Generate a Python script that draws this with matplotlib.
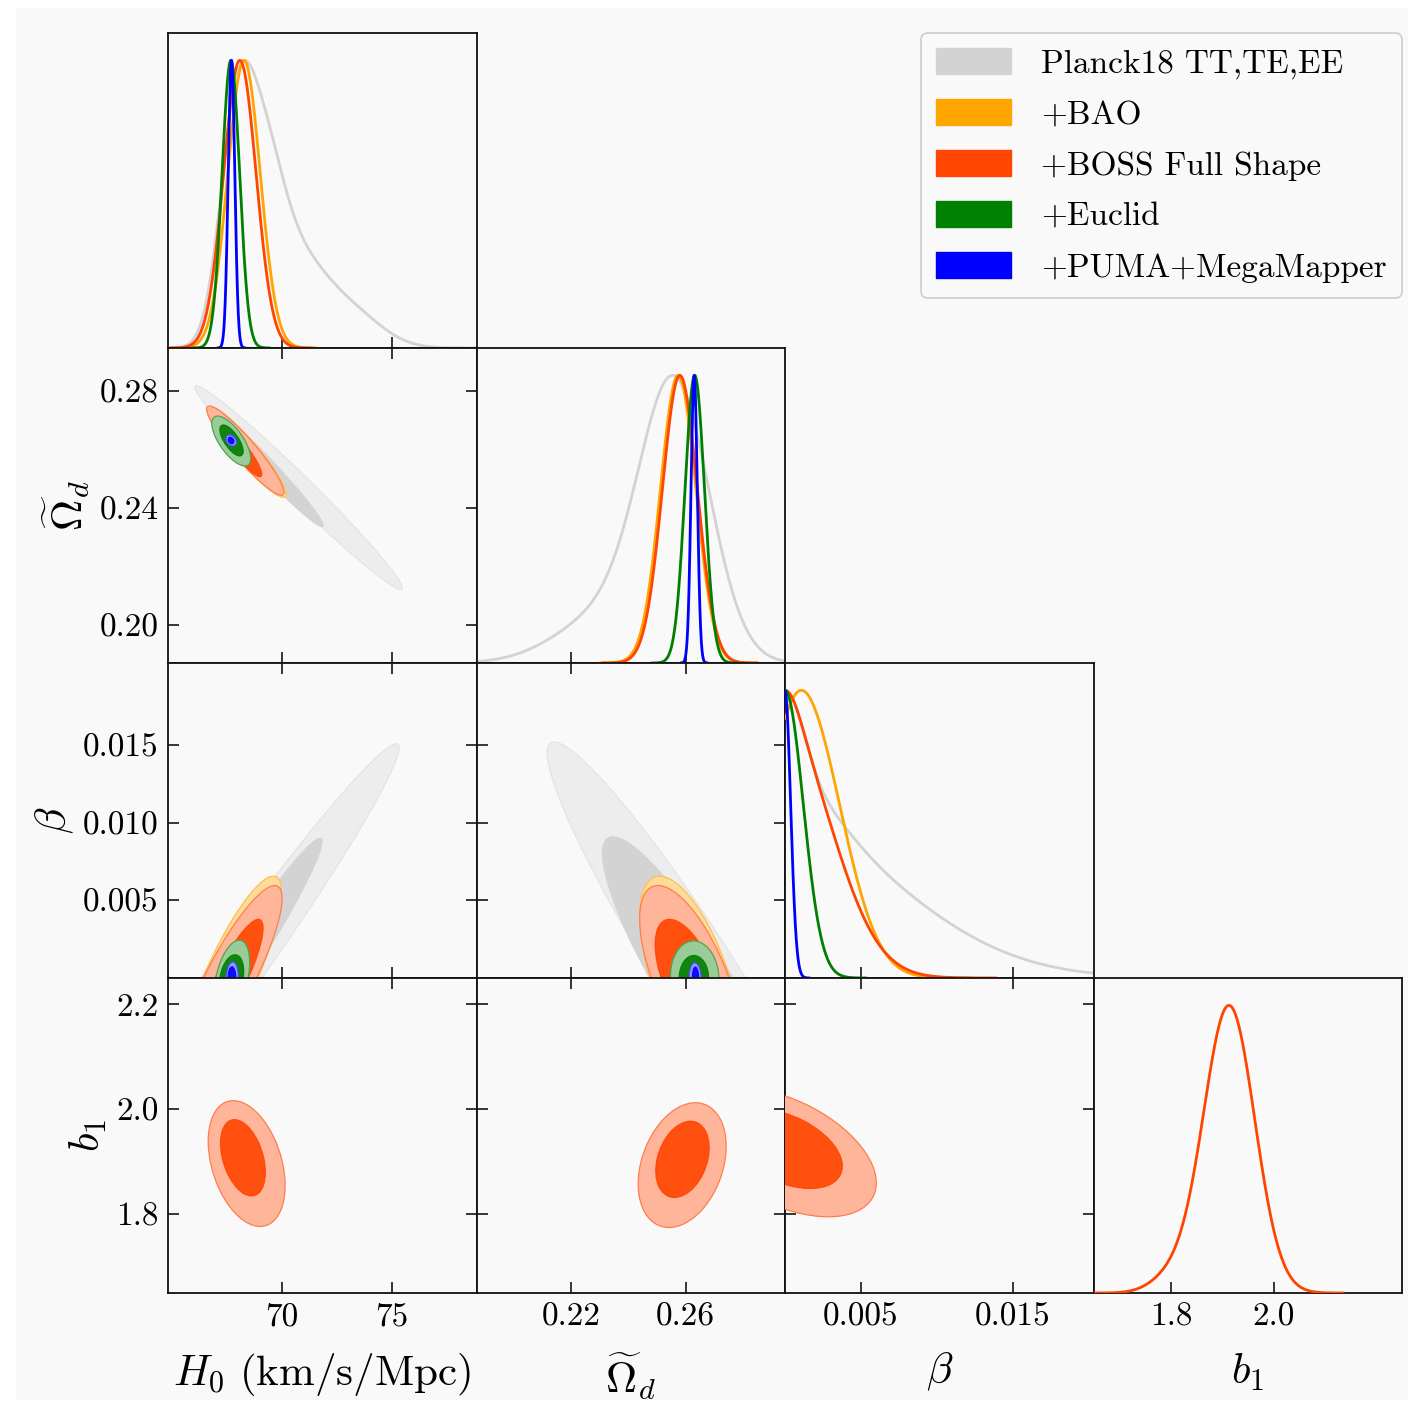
import matplotlib

matplotlib.use("Agg")
import matplotlib.pyplot as plt
import numpy as np
from matplotlib.colors import to_rgb
from matplotlib.patches import Ellipse, Patch, Rectangle

plt.rcParams["font.family"] = ["cmr10", "DejaVu Serif"]
plt.rcParams["mathtext.fontset"] = "cm"
plt.rcParams["axes.unicode_minus"] = False

# ---------------------------------------------------------------- data
DATASETS = ["Planck18 TT,TE,EE", "+BAO", "+BOSS Full Shape", "+Euclid", "+PUMA+MegaMapper"]
LABELS = [r"$H_0\ (\mathrm{km/s/Mpc})$", r"$\widetilde{\Omega}_d$", r"$\beta$", r"$b_1$"]

# axis ranges and ticks per parameter (H0, Omega_d, beta, b1)
LIMITS = [(64.82, 78.86), (0.1868, 0.2948), (0.0, 0.0203), (1.649, 2.250)]
X_TICKS = [[70, 75], [0.22, 0.26], [0.005, 0.015], [1.8, 2.0]]
X_TICK_LABELS = [["70", "75"], ["0.22", "0.26"], ["0.005", "0.015"], ["1.8", "2.0"]]
Y_TICKS = [[], [0.20, 0.24, 0.28], [0.005, 0.010, 0.015], [1.8, 2.0, 2.2]]
Y_TICK_LABELS = [[], ["0.20", "0.24", "0.28"], ["0.005", "0.010", "0.015"], ["1.8", "2.0", "2.2"]]

# 1D marginals: per dataset a list of (centre, width, weight) components
H0_1D = [
    [(67.85, 0.75, 0.65), (69.0, 0.95, 0.60), (70.6, 1.4, 0.32), (73.2, 1.4, 0.12)],
    [(68.28, 0.74, 1.0)],
    [(68.09, 0.74, 1.0)],
    [(67.68, 0.40, 1.0)],
    [(67.71, 0.15, 1.0)],
]
OMEGA_1D = [
    [(0.2563, 0.0122, 1.0), (0.233, 0.0175, 0.18)],
    [(0.2574, 0.0062, 1.0)],
    [(0.2580, 0.0061, 1.0)],
    [(0.2632, 0.0034, 1.0)],
    [(0.2630, 0.0011, 1.0)],
]
BETA_1D = [
    [(0.0, 0.00118, 0.30), (0.0, 0.0030, 0.20), (0.0, 0.0078, 0.50)],
    [(0.0014, 0.0024, 1.0), (0.0, 0.0015, 0.15)],
    [(0.0, 0.0010, 0.15), (0.0, 0.0031, 0.85)],
    [(0.0, 0.0012, 1.0)],
    [(0.0, 0.00037, 1.0)],
]
B1_1D = [None, None, [(1.913, 0.050, 1.0), (1.80, 0.040, 0.05)], None, None]

# 2D contours: per dataset (cx, cy, half-extent x, half-extent y, correlation)
H0_OMEGA_95 = [
    (70.77, 0.2469, 4.72, 0.0349, -0.985),
    (68.40, 0.2592, 1.80, 0.0156, -0.93),
    (68.34, 0.2596, 1.76, 0.0153, -0.93),
    (67.70, 0.2629, 0.886, 0.00855, -0.70),
    (67.70, 0.2631, 0.24, 0.0019, -0.30),
]
H0_OMEGA_68 = [
    (69.30, 0.2541, 2.575, 0.0205, -0.98),
    (68.20, 0.2598, 1.05, 0.0097, -0.91),
    (68.10, 0.2601, 0.985, 0.0094, -0.91),
    (67.71, 0.2631, 0.53, 0.0053, -0.70),
    (67.69, 0.2631, 0.13, 0.0011, -0.30),
]
H0_BETA_95 = [
    (67.70, 0.0, 7.64, 0.0151, 0.983),
    (67.66, 0.0, 2.32, 0.00656, 0.84),
    (67.64, 0.0, 2.37, 0.00596, 0.86),
    (67.73, 0.0, 0.806, 0.00244, 0.41),
    (67.74, 0.0, 0.28, 0.00103, 0.10),
]
H0_BETA_68 = [
    (67.70, 0.0, 4.13, 0.0090, 0.976),
    (67.75, 0.0, 1.45, 0.0040, 0.85),
    (67.72, 0.0, 1.426, 0.00378, 0.849),
    (67.71, 0.0, 0.554, 0.0015, 0.29),
    (67.73, 0.0, 0.175, 0.00072, 0.0),
]
OMEGA_BETA_95 = [
    (0.2650, 0.0, 0.05345, 0.0152, -0.954),
    (0.2615, 0.0, 0.01756, 0.00656, -0.604),
    (0.2616, 0.0, 0.01768, 0.00596, -0.639),
    (0.2632, 0.0, 0.0085, 0.00239, -0.05),
    (0.2634, 0.0, 0.0021, 0.00098, -0.10),
]
OMEGA_BETA_68 = [
    (0.2620, 0.0, 0.0311, 0.0091, -0.883),
    (0.2612, 0.0, 0.0120, 0.0040, -0.57),
    (0.2611, 0.0, 0.01175, 0.00378, -0.57),
    (0.2629, 0.0, 0.00515, 0.00145, 0.0),
    (0.2635, 0.0, 0.0011, 0.0007, -0.10),
]
H0_B1_95 = [None, None, (68.40, 1.896, 1.75, 0.120, -0.35), None, None]
H0_B1_68 = [None, None, (68.23, 1.907, 1.02, 0.0728, -0.38), None, None]
OMEGA_B1_95 = [None, None, (0.2588, 1.893, 0.0154, 0.119, 0.30), None, None]
OMEGA_B1_68 = [None, None, (0.2589, 1.904, 0.00935, 0.0727, 0.30), None, None]
BETA_B1_95 = [None, None, (0.0, 1.917, 0.00601, 0.1226, -0.473), None, None]
BETA_B1_68 = [None, None, (0.0, 1.924, 0.00377, 0.0756, -0.437), None, None]

# ---------------------------------------------------------------- style
COLORS = ["#d3d3d3", "#ffa500", "#ff4500", "#008000", "#0000ff"]
BG = "#f9f9f9"
PANEL_LEFT, PANEL_RIGHT = 168 / 1408, 1402 / 1408
PANEL_BOTTOM, PANEL_TOP = 1 - 1293 / 1403, 1 - 33 / 1403

MARGINALS = [H0_1D, OMEGA_1D, BETA_1D, B1_1D]
CONTOURS = {
    (1, 0): (H0_OMEGA_95, H0_OMEGA_68),
    (2, 0): (H0_BETA_95, H0_BETA_68),
    (2, 1): (OMEGA_BETA_95, OMEGA_BETA_68),
    (3, 0): (H0_B1_95, H0_B1_68),
    (3, 1): (OMEGA_B1_95, OMEGA_B1_68),
    (3, 2): (BETA_B1_95, BETA_B1_68),
}


def pale(color, f=0.6):
    rgb = np.array(to_rgb(color))
    return tuple(rgb * (1 - f) + f)


def add_ellipse(ax, params, face, edge, zorder, alpha=1.0):
    cx, cy, sx, sy, rho = params
    cov = np.array([[sx * sx, rho * sx * sy], [rho * sx * sy, sy * sy]])
    vals, vecs = np.linalg.eigh(cov)
    angle = np.degrees(np.arctan2(vecs[1, 1], vecs[0, 1]))
    ax.add_patch(Ellipse((cx, cy), 2 * np.sqrt(vals[1]), 2 * np.sqrt(max(vals[0], 0)),
                         angle=angle, facecolor=face, edgecolor=edge, lw=0.9,
                         alpha=alpha, zorder=zorder))


def draw_marginal(ax, comps, lims, color, zorder):
    lo = max(min(m - 4.5 * s for m, s, _ in comps), lims[0])
    hi = min(max(m + 4.5 * s for m, s, _ in comps), lims[1])
    x = np.linspace(lo, hi, 600)
    y = np.zeros_like(x)
    for mu, sig, w in comps:
        y += w * np.exp(-0.5 * ((x - mu) / sig) ** 2)
    ax.plot(x, y / y.max(), color=color, lw=2.0, zorder=zorder, solid_capstyle="butt")


fig, axes = plt.subplots(4, 4, figsize=(14.08, 14.03), dpi=100)
fig.patch.set_facecolor("white")
fig.add_artist(Rectangle((16 / 1408, 3 / 1403), 1 - 16 / 1408, 1 - 11 / 1403,
                         transform=fig.transFigure, facecolor=BG, edgecolor="none", zorder=-5))
fig.subplots_adjust(left=PANEL_LEFT, right=PANEL_RIGHT, bottom=PANEL_BOTTOM, top=PANEL_TOP,
                    wspace=0, hspace=0)

for i in range(4):
    for j in range(4):
        ax = axes[i, j]
        if j > i:
            ax.set_visible(False)
            continue
        ax.set_facecolor(BG)
        for sp in ax.spines.values():
            sp.set_linewidth(1.3)
            sp.set_color("#111111")
        ax.set_xlim(*LIMITS[j])
        ax.set_xticks(X_TICKS[j])
        if i == 3:
            ax.set_xticklabels(X_TICK_LABELS[j])
            ax.set_xlabel(LABELS[j], fontsize=31, labelpad=14)
        else:
            ax.set_xticklabels([])

        if i == j:
            for k, comps in enumerate(MARGINALS[j]):
                if comps is not None:
                    draw_marginal(ax, comps, LIMITS[j], COLORS[k], 2 + k)
            ax.set_ylim(0, 1.095)
            ax.set_yticks([])
            ax.tick_params(axis="x", direction="in", length=8, width=1.1, labelsize=24, pad=7)
        else:
            ax.set_ylim(*LIMITS[i])
            ax.set_yticks(Y_TICKS[i])
            if j == 0:
                ax.set_yticklabels(Y_TICK_LABELS[i])
                ax.set_ylabel(LABELS[i], fontsize=31, labelpad=5)
            else:
                ax.set_yticklabels([])
            ax.tick_params(direction="in", length=8, width=1.1, labelsize=24, pad=7,
                           top=True, right=True)
            outer, inner = CONTOURS[(i, j)]
            for k in range(len(DATASETS)):
                if outer[k] is None:
                    continue
                base = COLORS[k]
                edge = pale(base, 0.3) if k else "#e4e4e4"
                fill_alpha = 0.9 if k else 1.0
                add_ellipse(ax, outer[k], pale(base), edge, 2 + 2 * k)
                add_ellipse(ax, inner[k], base, base, 3 + 2 * k, alpha=fill_alpha)

handles = [Patch(facecolor=c, edgecolor=c) for c in COLORS]
leg = fig.legend(handles, DATASETS, loc="upper right",
                 bbox_to_anchor=(1402 / 1408, 1 - 33 / 1403), bbox_transform=fig.transFigure,
                 fontsize=24, frameon=True, fancybox=True, facecolor=BG, edgecolor="#cccccc",
                 framealpha=1, handlelength=2.25, handleheight=0.8, handletextpad=0.9,
                 labelspacing=0.62, borderpad=0.45, borderaxespad=0)
leg.get_frame().set_linewidth(1.2)

fig.savefig("out.png", dpi=100, facecolor=fig.get_facecolor())
